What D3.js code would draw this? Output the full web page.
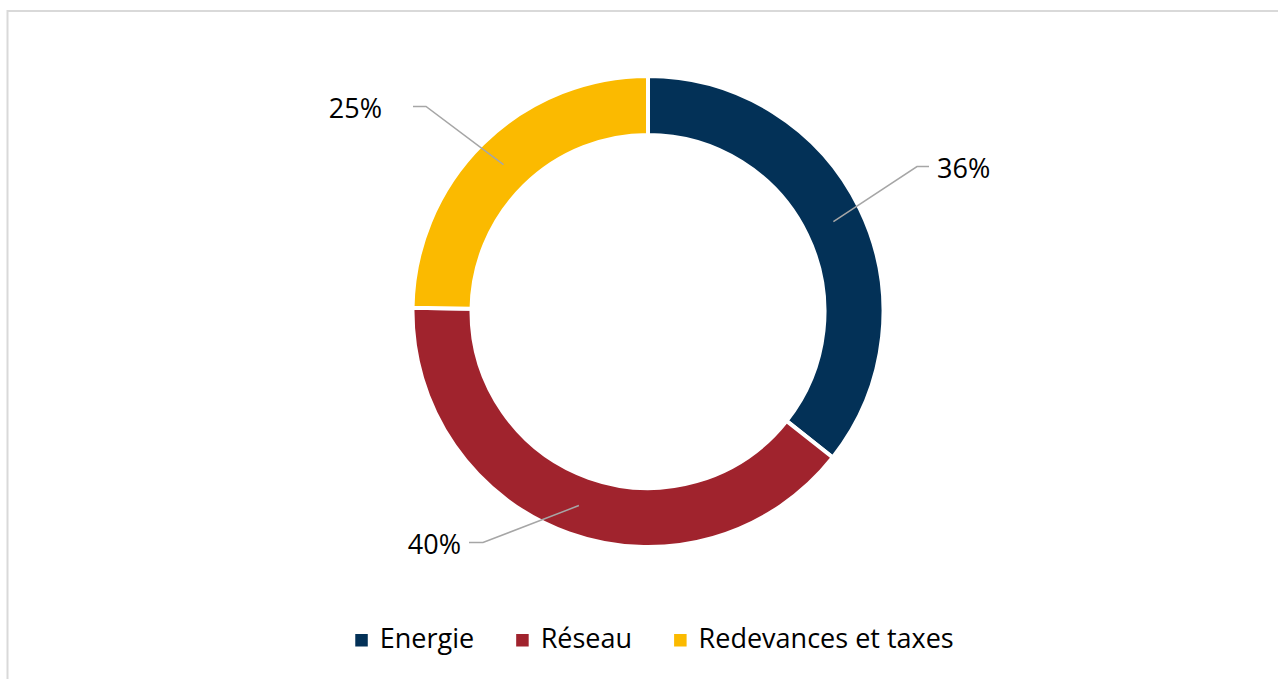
<!DOCTYPE html>
<html>
<head>
<meta charset="utf-8">
<script src="https://cdn.jsdelivr.net/npm/d3@7/dist/d3.min.js"></script>
<style>
  html, body { margin: 0; padding: 0; background: #ffffff; }
  svg { display: block; }
  text { font-family: "Open Sans", "Noto Sans", sans-serif; fill: #000000; }
</style>
</head>
<body>
<svg id="chart" width="1278" height="679"></svg>
<script>
// Cost breakdown shares (%)
const categories = ["Energie", "Réseau", "Redevances et taxes"];
const shares = [36, 40, 25];
const colors = ["#033157", "#a0232d", "#fbba00"];

// Label placement: elbow of each leader line relative to the ring centre,
// horizontal tail length (signed) and text side.
const labelLayout = [
  { elbow: [269, -145], tail: 12,  anchor: "start", gap: 8 },
  { elbow: [-165, 231], tail: -14, anchor: "end",   gap: 8 },
  { elbow: [-222, -205], tail: -13, anchor: "end",  gap: 31 }
];

const W = 1278, H = 679;
const cx = 648, cy = 311.5;
const outerR = 235.5, innerR = 176.5;
const fontSize = 27;

const svg = d3.select("#chart");

// Frame
svg.append("rect")
  .attr("x", 7.5).attr("y", 11)
  .attr("width", 1290).attr("height", 720)
  .attr("fill", "none")
  .attr("stroke", "#d9d9d9")
  .attr("stroke-width", 2);

const data = categories.map((c, i) => ({ name: c, value: shares[i], color: colors[i], layout: labelLayout[i] }));

const pie = d3.pie().value(d => d.value).sort(null);
const arc = d3.arc().innerRadius(innerR).outerRadius(outerR);
const midArc = d3.arc().innerRadius((innerR + outerR) / 2).outerRadius((innerR + outerR) / 2);

const g = svg.append("g").attr("transform", `translate(${cx},${cy})`);
const arcs = pie(data);

g.selectAll("path.slice")
  .data(arcs)
  .join("path")
  .attr("class", "slice")
  .attr("d", arc)
  .attr("fill", d => d.data.color)
  .attr("stroke", "#ffffff")
  .attr("stroke-width", 4)
  .attr("stroke-linejoin", "miter");

// Leader lines from the middle of each ring segment
g.selectAll("polyline.leader")
  .data(arcs)
  .join("polyline")
  .attr("class", "leader")
  .attr("points", d => {
    const start = midArc.centroid(d);
    const e = d.data.layout.elbow;
    const end = [e[0] + d.data.layout.tail, e[1]];
    return [start, e, end].map(p => p.join(",")).join(" ");
  })
  .attr("fill", "none")
  .attr("stroke", "#a6a6a6")
  .attr("stroke-width", 1.5);

g.selectAll("text.pct")
  .data(arcs)
  .join("text")
  .attr("class", "pct")
  .attr("x", d => {
    const L = d.data.layout;
    const endX = L.elbow[0] + L.tail;
    return L.anchor === "start" ? endX + L.gap : endX - L.gap;
  })
  .attr("y", d => d.data.layout.elbow[1] + 1)
  .attr("dominant-baseline", "central")
  .attr("text-anchor", d => d.data.layout.anchor)
  .attr("font-size", fontSize)
  .text(d => d3.format(".0f")(d.data.value) + "%");

// Legend, centred under the ring
const legend = svg.append("g");
const sq = 12.5, textGap = 12, itemGap = 42, legendY = 648, legendCenter = 654.5;
let x = 0;
const items = data.map(d => {
  const item = legend.append("g");
  item.append("rect")
    .attr("y", legendY - 14)
    .attr("width", sq).attr("height", sq)
    .attr("fill", d.color);
  const t = item.append("text")
    .attr("x", sq + textGap)
    .attr("y", legendY)
    .attr("font-size", fontSize)
    .text(d.name);
  const w = sq + textGap + t.node().getComputedTextLength();
  item.attr("transform", `translate(${x},0)`);
  x += w + itemGap;
  return item;
});
const totalW = x - itemGap;
legend.attr("transform", `translate(${legendCenter - totalW / 2},0)`);
</script>
</body>
</html>
